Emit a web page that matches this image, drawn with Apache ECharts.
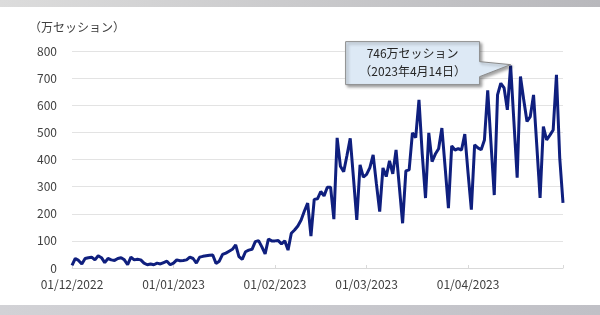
<!DOCTYPE html>
<html>
<head>
<meta charset="utf-8">
<script src="https://cdn.jsdelivr.net/npm/echarts@6/dist/echarts.min.js"></script>
<style>
html,body{margin:0;padding:0;background:#fff;}
#c{width:600px;height:315px;}
</style>
</head>
<body>
<div id="c"></div>
<script>
// Daily sessions (万セッション), 1 Dec 2022 – 30 Apr 2023
const dec2022 = [10,35,28,15,35,38,40,30,45,38,20,35,30,28,35,38,30,12,40,30,32,30,18,12,15,12,18,15,20,25,12];
const jan2023 = [18,30,27,28,30,40,35,18,40,43,45,47,48,17,25,50,55,62,69,85,42,32,60,66,69,97,101,78,52,107,100];
const feb2023 = [100,101,89,100,66,128,140,155,177,210,239,118,253,255,282,266,298,298,180,480,375,355,415,478,330,177,380,335];
const mar2023 = [345,370,417,310,208,369,337,395,347,435,300,165,358,362,498,481,620,420,258,498,392,420,440,516,370,221,450,435,440,435,494];
const apr2023 = [350,215,454,443,436,472,655,460,269,638,681,664,583,746,540,333,706,620,540,558,638,450,258,521,472,490,509,712,406,240];

const monthTicks = ['01/12/2022','01/01/2023','01/02/2023','01/03/2023','01/04/2023'];
const yTicks = [0,100,200,300,400,500,600,700,800];
const unitLabel = '（万セッション）';
const calloutLines = ['746万セッション', '（2023年4月14日）'];

const monthDefs = [
  {y:2022, m:12, vals:dec2022},
  {y:2023, m:1, vals:jan2023},
  {y:2023, m:2, vals:feb2023},
  {y:2023, m:3, vals:mar2023},
  {y:2023, m:4, vals:apr2023}
];
const pad = n => (n < 10 ? '0' : '') + n;
const categories = [];
const values = [];
monthDefs.forEach(md => {
  md.vals.forEach((v, i) => {
    categories.push(pad(i + 1) + '/' + pad(md.m) + '/' + md.y);
    values.push(v);
  });
});
const lastIdx = categories.length - 1;

const font = '"Noto Sans CJK JP", "Noto Sans", sans-serif';
const chart = echarts.init(document.getElementById('c'));
chart.setOption({
  animation: false,
  backgroundColor: '#ffffff',
  grid: {left: 72, right: 37, top: 51, bottom: 47},
  xAxis: {
    type: 'category',
    data: categories,
    boundaryGap: false,
    axisLine: {lineStyle: {color: '#d9d9d9', width: 1}},
    axisTick: {
      show: true, length: 3, inside: true,
      interval: (i, v) => monthTicks.indexOf(v) >= 0 || i === lastIdx,
      lineStyle: {color: '#d9d9d9'}
    },
    axisLabel: {
      interval: (i, v) => monthTicks.indexOf(v) >= 0,
      color: '#404040', fontSize: 12, fontFamily: font, margin: 10
    },
    splitLine: {show: false}
  },
  yAxis: {
    type: 'value',
    min: yTicks[0], max: yTicks[yTicks.length - 1], interval: 100,
    axisLine: {show: false},
    axisTick: {show: false},
    axisLabel: {color: '#404040', fontSize: 12, fontFamily: font, margin: 15},
    splitLine: {lineStyle: {color: '#e3e3e3', width: 1}}
  },
  series: [{
    type: 'line',
    data: values,
    showSymbol: false,
    symbol: 'none',
    lineStyle: {color: '#0f1f7e', width: 3},
    z: 3
  }]
});

// Callout anchored on the peak data point
let peakIdx = 0;
values.forEach((v, i) => { if (v > values[peakIdx]) peakIdx = i; });
const p = chart.convertToPixel({seriesIndex: 0}, [peakIdx, values[peakIdx]]);
const tx = p[0], ty = p[1] - 1;
const L = tx - 165, R = tx - 31, T = ty - 23, B = ty + 20;
chart.setOption({
  graphic: [
    {type: 'rect', shape: {x: 0, y: 0, width: 600, height: 7}, silent: true,
     style: {fill: new echarts.graphic.LinearGradient(0, 0, 1, 0, [{offset: 0, color: '#dcdcdc'}, {offset: 1, color: '#b8b8bc'}])}},
    {type: 'rect', shape: {x: 0, y: 305, width: 600, height: 10}, silent: true,
     style: {fill: new echarts.graphic.LinearGradient(0, 0, 1, 0, [{offset: 0, color: '#d2d2d6'}, {offset: 1, color: '#c0c0c6'}])}},
    {type: 'text', left: 29, top: 21, silent: true,
     style: {text: unitLabel, fill: '#404040', fontSize: 12, fontFamily: font}},
    {type: 'polygon', z: 10, silent: true,
     shape: {points: [[L, T], [R, T], [R, T + 20], [tx, ty], [R, T + 35], [R, B], [L, B]]},
     style: {fill: '#dde9f5', stroke: '#8a8a8a', lineWidth: 1,
             shadowBlur: 3, shadowOffsetX: 2, shadowOffsetY: 2, shadowColor: 'rgba(0,0,0,0.35)'}},
    {type: 'text', z: 11, silent: true, x: (L + R) / 2, y: T + 12,
     style: {text: calloutLines[0], fill: '#262626', fontSize: 12, fontFamily: font, align: 'center', verticalAlign: 'middle'}},
    {type: 'text', z: 11, silent: true, x: (L + R) / 2, y: T + 30,
     style: {text: calloutLines[1], fill: '#262626', fontSize: 12, fontFamily: font, align: 'center', verticalAlign: 'middle'}}
  ]
});
</script>
</body>
</html>
